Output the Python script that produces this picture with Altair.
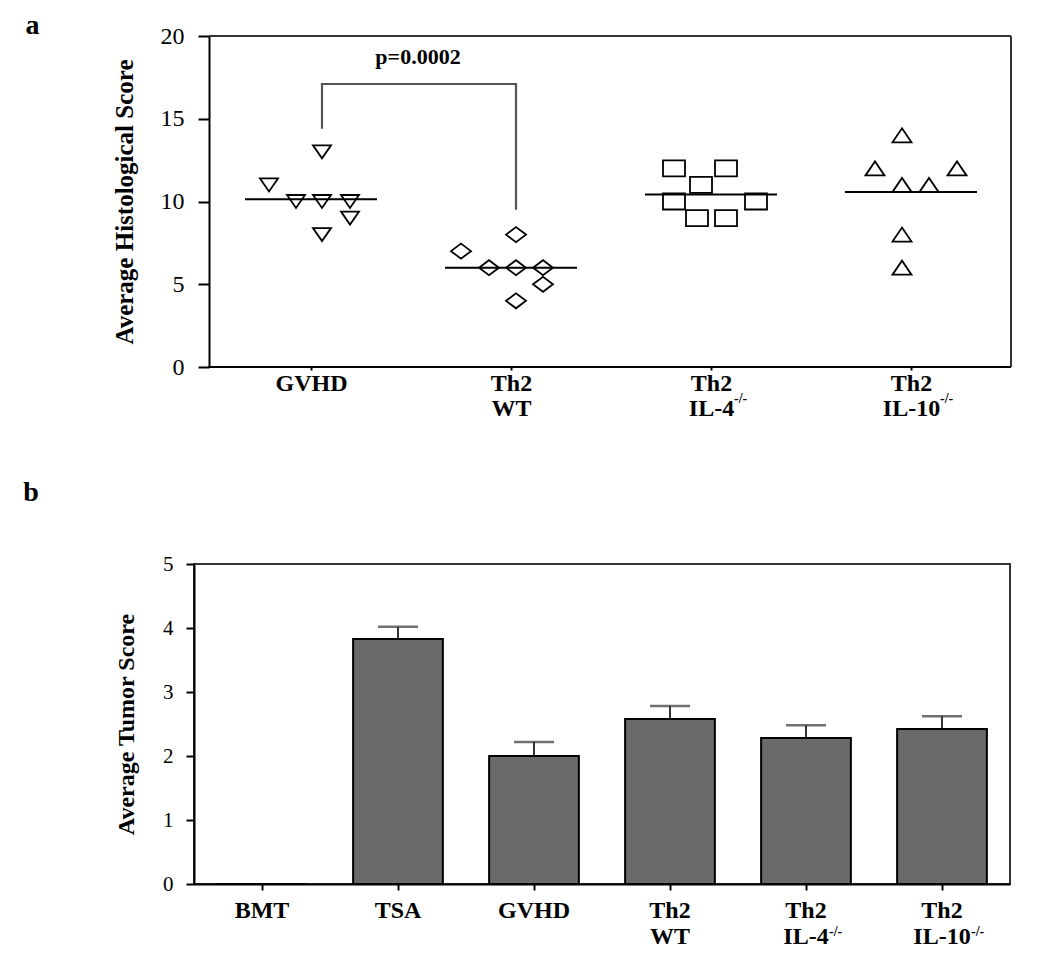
import altair as alt
import pandas as pd

FONT = "Liberation Serif"

# ---------------- Panel a : individual histological scores ----------------
a_groups = ["GVHD", "Th2 WT", "Th2 IL-4", "Th2 IL-10"]
a_pos = [1, 2, 3, 4]
a_sup = ["", "", "-/-", "-/-"]

gvhd_scores = [13, 11, 10, 10, 10, 9, 8]
gvhd_offset = [0.055, -0.21, -0.075, 0.055, 0.195, 0.195, 0.055]
wt_scores = [8, 7, 6, 6, 6, 5, 4]
wt_offset = [0.025, -0.25, -0.11, 0.025, 0.16, 0.16, 0.025]
il4_scores = [12, 12, 11, 10, 10, 9, 9]
il4_offset = [-0.185, 0.075, -0.05, -0.185, 0.225, -0.07, 0.075]
il10_scores = [14, 12, 12, 11, 11, 8, 6]
il10_offset = [-0.045, -0.18, 0.23, -0.045, 0.09, -0.045, -0.045]

# marker outlines (custom symbol paths)
a_shapes = [
    "M-0.9,-0.65L0.9,-0.65L0,0.65Z",          # triangle down
    "M-1,0L0,-0.75L1,0L0,0.75Z",              # diamond
    "M-1.1,-0.8L1.1,-0.8L1.1,0.8L-1.1,0.8Z",  # rectangle
    "M-0.95,0.7L0.95,0.7L0,-0.7Z",            # triangle up
]

bracket_x = [1.055, 1.055, 2.025, 2.025]
bracket_y = [14.4, 17.1, 17.1, 9.5]
p_label = "p=0.0002"
p_x = [1.535]
p_y = [18.75]

# ---------------- Panel b : tumour scores ----------------
b_groups = ["BMT", "TSA", "GVHD", "Th2 WT", "Th2 IL-4", "Th2 IL-10"]
b_mean = [0.0, 3.83, 2.0, 2.58, 2.28, 2.42]
b_sem = [0.0, 0.19, 0.22, 0.20, 0.20, 0.20]
b_sup = ["", "", "", "", "-/-", "-/-"]

sup_dx = {"IL-4": 23, "IL-10": 29}

# ---------------- build tables ----------------
rows = []
for g, p, scores, offs in zip(a_groups, a_pos,
                              [gvhd_scores, wt_scores, il4_scores, il10_scores],
                              [gvhd_offset, wt_offset, il4_offset, il10_offset]):
    for s, o in zip(scores, offs):
        rows.append({"group": g, "pos": p, "x": p + o, "score": s})
pts = pd.DataFrame(rows)

SHIFT = 15            # panel a's axis sits this far right of panel b's
W_A, H_A = 817, 331   # panel a view (left SHIFT px are blank margin)
W_B, H_B = 816, 320

xa = alt.X("x:Q", scale=alt.Scale(domain=[0.415, 4.5], nice=False, zero=False),
           axis=alt.Axis(values=a_pos, title=None, tickSize=3, labelPadding=1, domain=False,
                         labelFontSize=24, labelFontWeight="bold", labelLineHeight=25,
                         labelAngle=0, labelAlign="center", labelBaseline="top",
                         labelExpr="split(" + str(a_groups) + "[datum.value-1], ' ')"))
ya = alt.Y("score:Q", scale=alt.Scale(domain=[0, 20], nice=False),
           axis=alt.Axis(values=[0, 5, 10, 15, 20], title="Average Histological Score",
                         offset=-SHIFT, format="d",
                         tickSize=11, labelFontSize=24, labelPadding=14, titlePadding=23,
                         titleFontSize=25))

points = alt.Chart(pts).mark_point(filled=False, color="black", strokeWidth=1.8,
                                   size=400, opacity=1).encode(
    x=xa, y=ya,
    shape=alt.Shape("group:N", scale=alt.Scale(domain=a_groups, range=a_shapes), legend=None),
)

means = alt.Chart(pts).transform_aggregate(
    mean="mean(score)", groupby=["group", "pos"]
).transform_calculate(
    x1="datum.pos - 0.33", x2="datum.pos + 0.33"
).mark_rule(color="black", strokeWidth=2).encode(
    x=alt.X("x1:Q"), x2="x2:Q", y=alt.Y("mean:Q"))

br = pd.DataFrame({"x": bracket_x, "score": bracket_y, "i": list(range(len(bracket_x)))})
bracket = alt.Chart(br).mark_line(color="#555555", strokeWidth=2.2).encode(
    x="x:Q", y="score:Q", order="i:Q")

ptext = alt.Chart(pd.DataFrame({"x": p_x, "score": p_y, "t": [p_label]})).mark_text(
    font=FONT, fontSize=22, fontWeight="bold", color="black").encode(
    x="x:Q", y="score:Q", text="t:N")

# frame of panel a (top, right and bottom edges)
frame_top = alt.Chart(pd.DataFrame({"k": [0]})).mark_rule(color="#333333", strokeWidth=2).encode(
    x=alt.value(SHIFT), x2=alt.value(W_A), y=alt.value(0))
frame_right = alt.Chart(pd.DataFrame({"k": [0]})).mark_rule(color="#333333", strokeWidth=2).encode(
    x=alt.value(W_A), y=alt.value(0), y2=alt.value(H_A))
frame_bottom = alt.Chart(pd.DataFrame({"k": [0]})).mark_rule(color="black", strokeWidth=2).encode(
    x=alt.value(SHIFT - 1), x2=alt.value(W_A), y=alt.value(H_A))

a_layers = [frame_top, frame_right, frame_bottom, means, points, bracket, ptext]
for g, p, s in zip(a_groups, a_pos, a_sup):
    if s:
        key = g.split(" ")[-1]
        a_layers.append(alt.Chart(pd.DataFrame({"x": [p], "t": [s]})).mark_text(
            font=FONT, fontSize=14, fontWeight="bold", color="black", align="left",
            baseline="middle", dx=sup_dx[key]).encode(
            x="x:Q", y=alt.value(H_A + 32), text="t:N"))

a_letter = alt.Chart(pd.DataFrame({"t": ["a"]})).mark_text(
    font=FONT, fontSize=28, fontWeight="bold", color="black", baseline="middle",
    align="center").encode(x=alt.value(-161.5), y=alt.value(-10.5), text="t:N")
a_layers.append(a_letter)

top = alt.layer(*a_layers).properties(width=W_A, height=H_A, view=alt.ViewBackground(stroke=None))

# ---------------- panel b ----------------
bars_df = pd.DataFrame({"group": b_groups, "mean": b_mean, "sem": b_sem})
bars_df["hi"] = bars_df["mean"] + bars_df["sem"]

xb = alt.X("group:N", sort=b_groups,
           scale=alt.Scale(domain=b_groups, paddingInner=0.34, paddingOuter=0.17),
           axis=alt.Axis(title=None, labelAngle=0, labelAlign="center", labelBaseline="top",
                         tickSize=6, labelPadding=8,
                         labelFontSize=24, labelFontWeight="bold", labelLineHeight=26,
                         labelExpr="split(datum.value, ' ')"))
yb = alt.Y("mean:Q", scale=alt.Scale(domain=[0, 5], nice=False),
           axis=alt.Axis(values=[0, 1, 2, 3, 4, 5], title="Average Tumor Score", format="d",
                         tickSize=8, labelFontSize=21, labelPadding=13, titlePadding=24,
                         titleFontSize=24))

bars = alt.Chart(bars_df).mark_bar(color="#6a6a6a", stroke="black", strokeWidth=2).encode(
    x=xb, y=yb)
err_base = alt.Chart(bars_df).transform_filter("datum.sem > 0")
stems = err_base.mark_rule(color="#333333", strokeWidth=2).encode(
    x=alt.X("group:N", sort=b_groups), y="mean:Q", y2="hi:Q")
caps = err_base.mark_tick(color="#333333", thickness=2.5, size=40, orient="horizontal").encode(
    x=alt.X("group:N", sort=b_groups), y=alt.Y("hi:Q"))

b_layers = [stems, bars, caps]
for g, s in zip(b_groups, b_sup):
    if s:
        key = g.split(" ")[-1]
        b_layers.append(alt.Chart(pd.DataFrame({"group": [g], "t": [s]})).mark_text(
            font=FONT, fontSize=14, fontWeight="bold", color="black", align="left",
            baseline="middle", dx=sup_dx[key]).encode(
            x=alt.X("group:N", sort=b_groups), y=alt.value(H_B + 48), text="t:N"))

b_letter = alt.Chart(pd.DataFrame({"t": ["b"]})).mark_text(
    font=FONT, fontSize=28, fontWeight="bold", color="black", baseline="middle",
    align="center").encode(x=alt.value(-163), y=alt.value(-71), text="t:N")
b_layers.append(b_letter)

bottom = alt.layer(*b_layers).properties(width=W_B, height=H_B)

chart = alt.vconcat(top, bottom, spacing=58).properties(
    padding={"left": 14, "top": 3, "right": 5, "bottom": 5},
    background="white",
).configure_view(stroke="#333333", strokeWidth=2).configure_axis(
    grid=False, domainColor="black", domainWidth=2, tickColor="black", tickWidth=2,
    labelFont=FONT, titleFont=FONT, titleFontWeight="bold",
    labelColor="black", titleColor="black"
)

chart.save("out.html", embed_options={"renderer": "svg", "actions": False})
